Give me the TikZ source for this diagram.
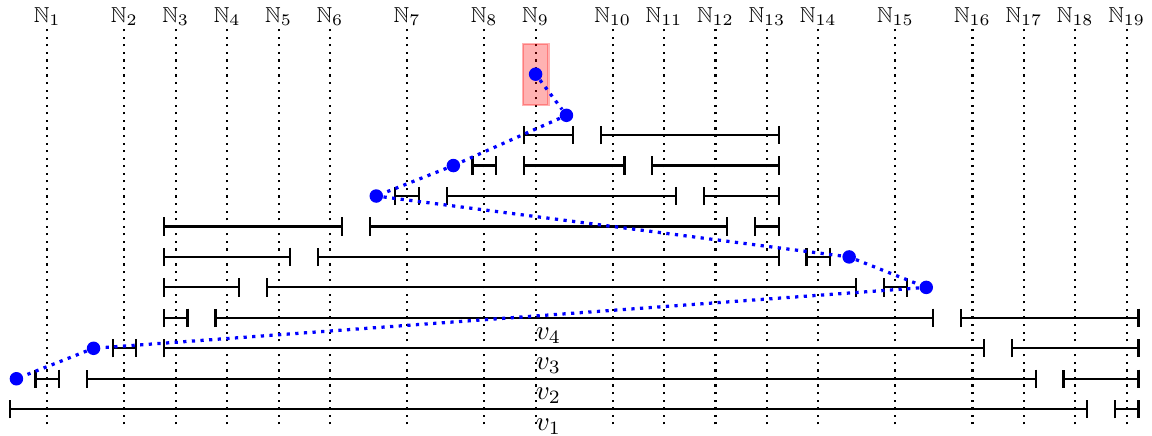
\documentclass[tikz,border=0pt]{standalone}
\usepackage{amssymb}
\usetikzlibrary{arrows.meta}
\begin{document}
\begin{tikzpicture}[x=0.669cm, y=0.3964cm,
	ival/.style={thick, {Bar[width=6.8pt]}-{Bar[width=6.8pt]}},
	vline/.style={thick, dotted},
	nat/.style={anchor=base, font=\footnotesize},
	ball/.style={circle, fill=blue, inner sep=0pt, minimum size=5pt},
	trail/.style={blue, very thick, dotted}]
	\useasboundingbox (-0.92,0.146) rectangle (21.492,14.436);

		\draw [vline] (0,0.5) -- (0,13.5);
		\draw [vline] (1.5,0.5) -- (1.5,13.5);
		\draw [vline] (2.5,0.5) -- (2.5,13.5);
		\draw [vline] (3.5,0.5) -- (3.5,13.5);
		\draw [vline] (4.5,0.5) -- (4.5,13.5);
		\draw [vline] (5.5,0.5) -- (5.5,13.5);
		\draw [vline] (7,0.5) -- (7,13.5);
		\draw [vline] (8.5,0.5) -- (8.5,13.5);
		\draw [vline] (9.5,0.5) -- (9.5,13.5);
		\draw [vline] (11,0.5) -- (11,13.5);
		\draw [vline] (12,0.5) -- (12,13.5);
		\draw [vline] (13,0.5) -- (13,13.5);
		\draw [vline] (14,0.5) -- (14,13.5);
		\draw [vline] (15,0.5) -- (15,13.5);
		\draw [vline] (16.5,0.5) -- (16.5,13.5);
		\draw [vline] (18,0.5) -- (18,13.5);
		\draw [vline] (19,0.5) -- (19,13.5);
		\draw [vline] (20,0.5) -- (20,13.5);
		\draw [vline] (21,0.5) -- (21,13.5);

		\node [nat] (N1) at (0,13.69) {$\mathbb{N}_1$};
		\node [nat] (N2) at (1.5,13.69) {$\mathbb{N}_2$};
		\node [nat] (N3) at (2.5,13.69) {$\mathbb{N}_3$};
		\node [nat] (N4) at (3.5,13.69) {$\mathbb{N}_4$};
		\node [nat] (N5) at (4.5,13.69) {$\mathbb{N}_5$};
		\node [nat] (N6) at (5.5,13.69) {$\mathbb{N}_6$};
		\node [nat] (N7) at (7,13.69) {$\mathbb{N}_7$};
		\node [nat] (N8) at (8.5,13.69) {$\mathbb{N}_8$};
		\node [nat] (N9) at (9.5,13.69) {$\mathbb{N}_9$};
		\node [nat] (N10) at (11,13.69) {$\mathbb{N}_{10}$};
		\node [nat] (N11) at (12,13.69) {$\mathbb{N}_{11}$};
		\node [nat] (N12) at (13,13.69) {$\mathbb{N}_{12}$};
		\node [nat] (N13) at (14,13.69) {$\mathbb{N}_{13}$};
		\node [nat] (N14) at (15,13.69) {$\mathbb{N}_{14}$};
		\node [nat] (N15) at (16.5,13.69) {$\mathbb{N}_{15}$};
		\node [nat] (N16) at (18,13.69) {$\mathbb{N}_{16}$};
		\node [nat] (N17) at (19,13.69) {$\mathbb{N}_{17}$};
		\node [nat] (N18) at (20,13.69) {$\mathbb{N}_{18}$};
		\node [nat] (N19) at (21,13.69) {$\mathbb{N}_{19}$};

	\draw [ival] (-0.75,1) -- (20.25,1);
	\draw [ival] (20.75,1) -- (21.25,1);
	\node [below] (v1) at (9.75,1) {$v_1$};

	\draw [ival] (-0.25,2) -- (0.25,2);
	\draw [ival] (0.75,2) -- (19.25,2);
	\draw [ival] (19.75,2) -- (21.25,2);
	\node [below] (v2) at (9.75,2) {$v_2$};

	\draw [ival] (1.25,3) -- (1.75,3);
	\draw [ival] (2.25,3) -- (18.25,3);
	\draw [ival] (18.75,3) -- (21.25,3);
	\node [below] (v3) at (9.75,3) {$v_3$};

	\draw [ival] (2.25,4) -- (2.75,4);
	\draw [ival] (3.25,4) -- (17.25,4);
	\draw [ival] (17.75,4) -- (21.25,4);
	\node [below] (v4) at (9.75,4) {$v_4$};

	\draw [ival] (2.25,5) -- (3.75,5);
	\draw [ival] (4.25,5) -- (15.75,5);
	\draw [ival] (16.25,5) -- (16.75,5);

	\draw [ival] (2.25,6) -- (4.75,6);
	\draw [ival] (5.25,6) -- (14.25,6);
	\draw [ival] (14.75,6) -- (15.25,6);

	\draw [ival] (2.25,7) -- (5.75,7);
	\draw [ival] (6.25,7) -- (13.25,7);
	\draw [ival] (13.75,7) -- (14.25,7);

	\draw [ival] (6.75,8) -- (7.25,8);
	\draw [ival] (7.75,8) -- (12.25,8);
	\draw [ival] (12.75,8) -- (14.25,8);

	\draw [ival] (8.25,9) -- (8.75,9);
	\draw [ival] (9.25,9) -- (11.25,9);
	\draw [ival] (11.75,9) -- (14.25,9);

	\draw [ival] (9.25,10) -- (10.25,10);
	\draw [ival] (10.75,10) -- (14.25,10);

	\draw [red, fill=red, opacity=0.3, thick] (9.25,11) rectangle (9.75,13);

	\begin{scope}[every node/.style={ball}]
		\node (1) at (9.5,12) {};
		\node (2) at (10.1,10.65) {};
		\node (3) at (7.9,9) {};
		\node (4) at (6.4,8) {};
		\node (5) at (15.6,6) {};
		\node (6) at (17.1,5) {};
		\node (7) at (0.9,3) {};
		\node (8) at (-0.6,2) {};
	\end{scope}
	\draw [trail] (1) -- (2) -- (3) -- (4) -- (5) -- (6) -- (7) -- (8);

	\end{tikzpicture}
\end{document}
